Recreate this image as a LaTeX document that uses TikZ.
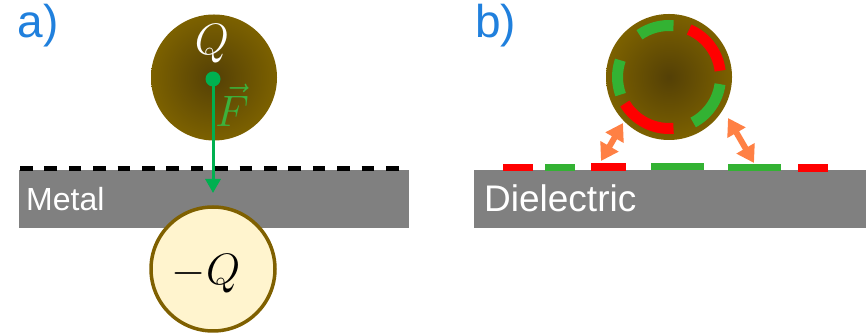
\RequirePackage{fix-cm}
\documentclass[tikz,border=0pt]{standalone}
\usepackage{fontspec}
\setmainfont{Liberation Sans}
\usetikzlibrary{arrows.meta}

\definecolor{labelblue}{RGB}{32,128,221}
\definecolor{slabgray}{RGB}{128,128,128}
\definecolor{ballout}{RGB}{124,97,0}
\definecolor{ballin}{RGB}{84,64,6}
\definecolor{imagefill}{RGB}{255,244,206}
\definecolor{imageedge}{RGB}{127,96,0}
\definecolor{forcegreen}{RGB}{0,176,80}
\definecolor{fgreen}{RGB}{60,178,60}
\definecolor{patchgreen}{RGB}{51,178,51}
\definecolor{patchred}{RGB}{255,0,0}
\definecolor{coral}{RGB}{255,128,68}

\begin{document}
\begin{tikzpicture}[x=1pt,y=1pt,
  panel/.style={inner sep=0pt,text=labelblue,font=\fontsize{46}{50}\selectfont},
  slab/.style={fill=slabgray,draw=none},
  slabtext/.style={inner sep=0pt,text=white},
  ball/.style={circle,minimum size=126pt,inner sep=0pt,draw=none,
    inner color=ballin,outer color=ballout},
  mirror/.style={circle,minimum size=124pt,inner sep=0pt,draw=imageedge,
    line width=3.5pt,fill=imagefill},
  mathlbl/.style={inner sep=0pt,font=\fontsize{44}{47}\selectfont},
  ringseg/.style={line width=11pt,line cap=butt},
  patch/.style={draw=none},
  swap/.style={draw=coral,line width=6pt,
    {Triangle[width=20pt,length=17pt]}-{Triangle[width=20pt,length=17pt]}},
]
\useasboundingbox (0,0) rectangle (866,336);

% ---------- a) metal: charge and its image ----------
\node[panel,anchor=base west] (la) at (17.5,298) {a)};
\fill[slab] (19,108) rectangle (409,166);
\node[slabtext,anchor=base west,font=\fontsize{32}{36}\selectfont] (metal) at (26,125) {Metal};
\draw[black,line width=5pt,dash pattern=on 12.5pt off 11.9pt] (20,167) -- (403,167);

\node[ball] (q) at (214,258.5) {};
\node[mathlbl,text=white,anchor=base] (qlbl) at (212,281) {$Q$};

\node[mirror] (mq) at (213,67) {};
\node[mathlbl,text=black,anchor=base] (mqlbl) at (206,51) {$-Q$};

\node[circle,fill=forcegreen,minimum size=15pt,inner sep=0pt] (dot) at (213,257) {};
\coordinate (ftip) at (213,143);
\draw[forcegreen,line width=3pt,-{Triangle[width=15pt,length=14pt]}] (dot.center) -- (ftip);
\node[mathlbl,text=fgreen,anchor=base west] (flbl) at (215,209) {$\vec{F}$};

% ---------- b) dielectric: patch charges ----------
\node[panel,anchor=base west] (lb) at (475,298) {b)};
\fill[slab] (474,108) rectangle (866,166);
\node[slabtext,anchor=base west,font=\fontsize{37}{40}\selectfont] (diel) at (484,124) {Dielectric};

\node[ball] (p) at (669,259) {};
\draw[ringseg,patchgreen] ([shift={(85:51.5)}]p.center) arc[start angle=85,end angle=125,radius=51.5];
\draw[ringseg,patchred] ([shift={(7:51.5)}]p.center) arc[start angle=7,end angle=67,radius=51.5];
\draw[ringseg,patchgreen] ([shift={(-62:51.5)}]p.center) arc[start angle=-62,end angle=-8,radius=51.5];
\draw[ringseg,patchred] ([shift={(211:51.5)}]p.center) arc[start angle=211,end angle=275,radius=51.5];
\draw[ringseg,patchgreen] ([shift={(161:51.5)}]p.center) arc[start angle=161,end angle=200,radius=51.5];

\fill[patch,patchred]   (503,165) rectangle (533,172);
\fill[patch,patchgreen] (545,165) rectangle (575,172);
\fill[patch,patchred]   (591,165) rectangle (626,173);
\fill[patch,patchgreen] (651,165.5) rectangle (704,173);
\fill[patch,patchgreen] (728,164.5) rectangle (781,172);
\fill[patch,patchred]   (798,164) rectangle (828,172);

\coordinate (sl0) at (601,175);
\coordinate (sl1) at (623,213);
\coordinate (sr0) at (728,218);
\coordinate (sr1) at (754,173);
\draw[swap] (sl0) -- (sl1);
\draw[swap] (sr0) -- (sr1);
\end{tikzpicture}
\end{document}
